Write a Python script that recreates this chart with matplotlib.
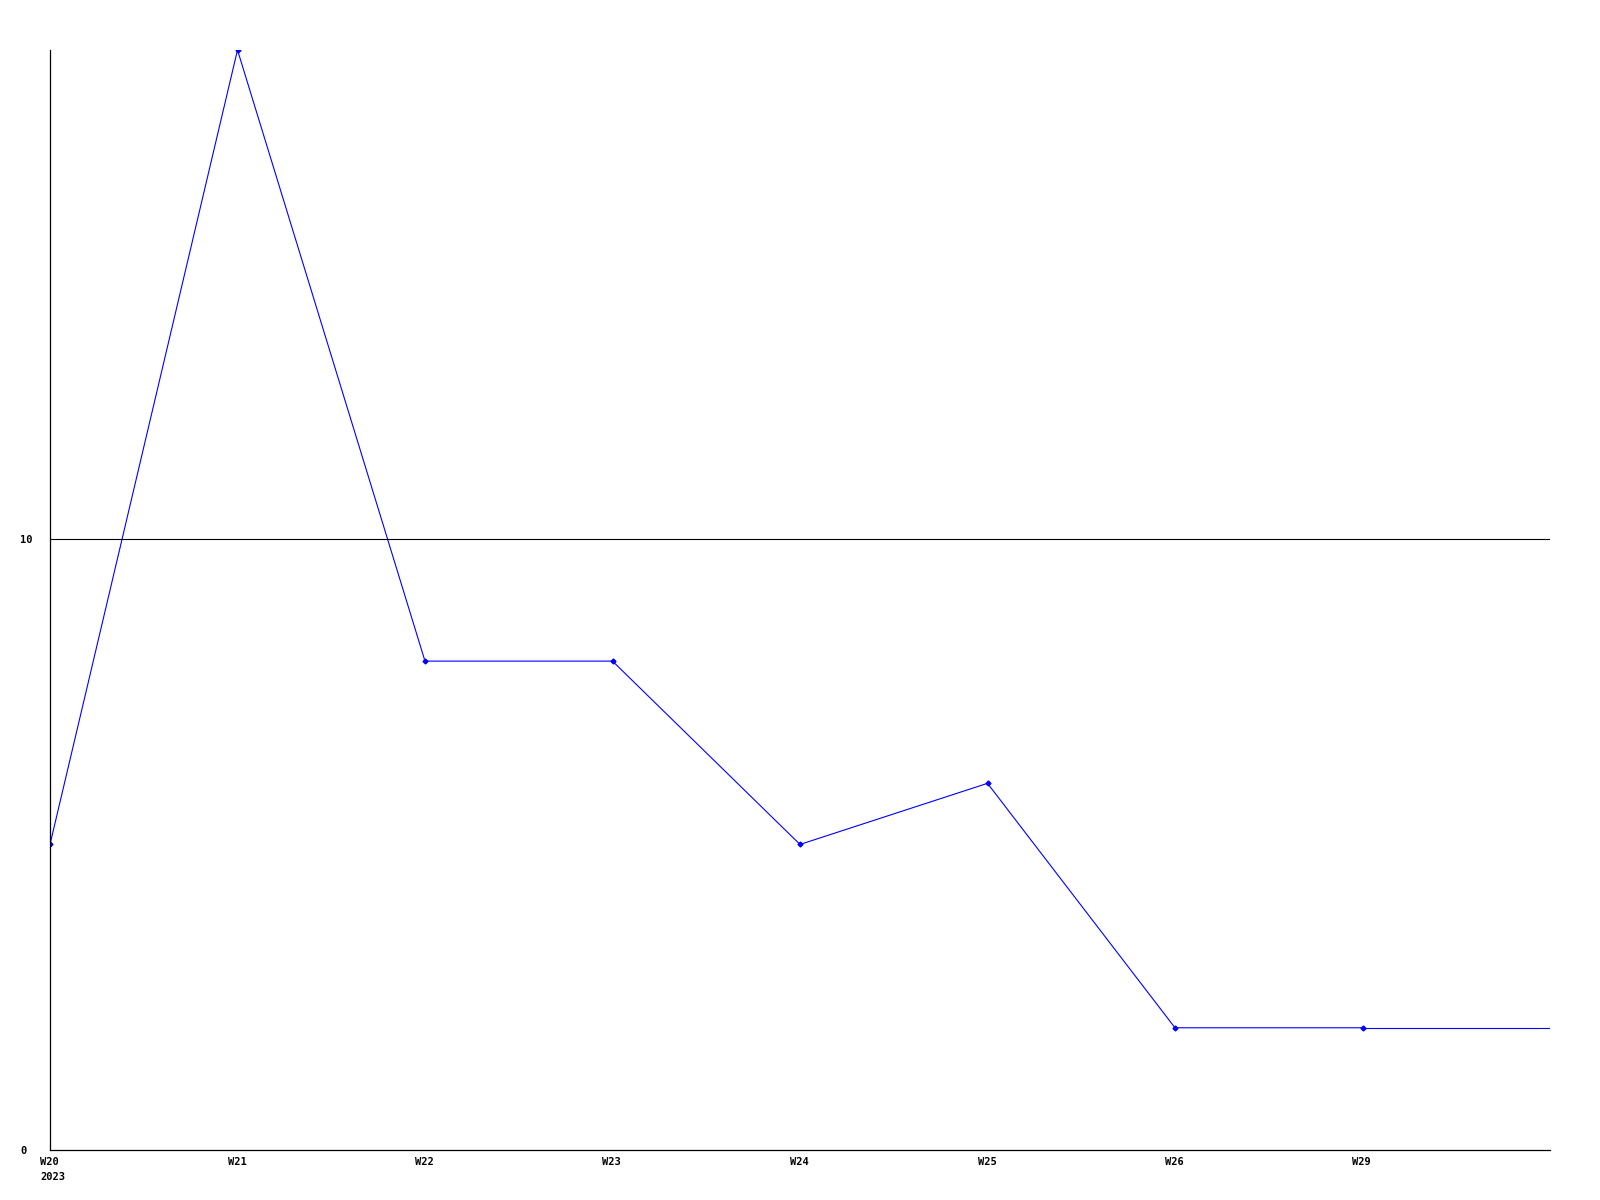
import matplotlib
matplotlib.use("Agg")
import matplotlib.pyplot as plt
import matplotlib.transforms as mtransforms

weeks = ["W20\n2023", "W21", "W22", "W23", "W24", "W25", "W26", "W29"]
values = [5, 18, 8, 8, 5, 6, 2, 2]
ytick_values = [0, 10]

fig = plt.figure(figsize=(16, 12), dpi=100)
ax = fig.add_axes([50/1600, 50/1200, 1500/1600, 1100/1200])

x = list(range(len(weeks)))
xmax = len(weeks)
ax.plot(x, values, color="#0000ff", lw=0.8, marker="D", ms=2.5, mfc="#0000ff", mec="#0000ff")
ax.hlines(values[-1], x[-1], xmax, color="#0000ff", lw=0.8)

for v in ytick_values:
    if v > 0:
        ax.axhline(v, color="black", lw=0.8)

ax.set_xlim(0, xmax)
ax.set_ylim(0, 18)

for s in ["top", "right"]:
    ax.spines[s].set_visible(False)
for s in ["left", "bottom"]:
    ax.spines[s].set_linewidth(0.9)
    ax.spines[s].set_color("black")

font = dict(family="DejaVu Sans Mono", weight="bold", size=7.5)
ax.set_yticks(ytick_values)
ax.set_yticklabels([str(v) for v in ytick_values], ha="left", **font)
ax.tick_params(axis="y", length=0, pad=21.5)
ax.set_xticks(x)
ax.set_xticklabels(weeks, ha="left", multialignment="left", linespacing=1.6, **font)
ax.tick_params(axis="x", length=0, pad=5)
offset = mtransforms.ScaledTranslation(-10/100, 0, fig.dpi_scale_trans)
for lbl in ax.get_xticklabels():
    lbl.set_transform(lbl.get_transform() + offset)

fig.savefig("out.png", dpi=100)
